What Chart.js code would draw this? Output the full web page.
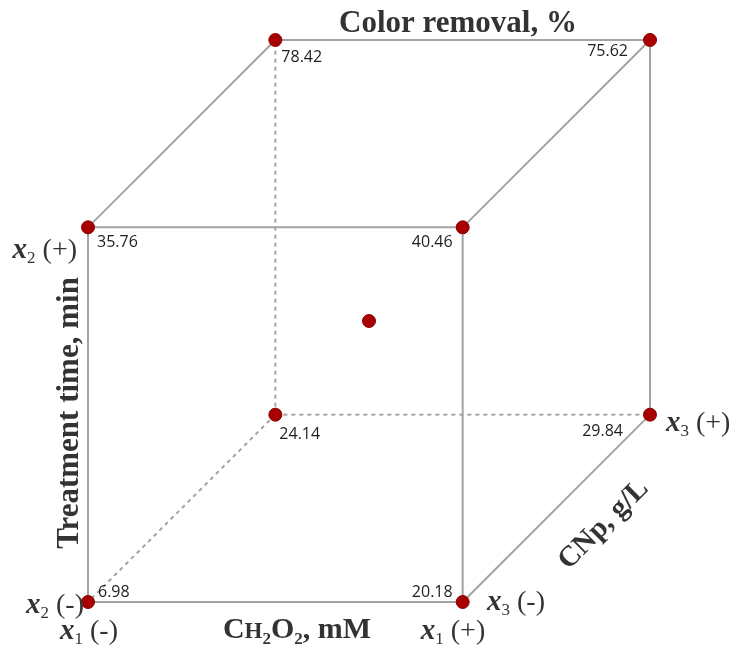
<!DOCTYPE html>
<html>
<head>
<meta charset="utf-8">
<script src="https://cdn.jsdelivr.net/npm/chart.js@4.4.0/dist/chart.umd.min.js"></script>
<style>
  html, body { margin: 0; padding: 0; background: #fff; }
  #wrap { width: 733px; height: 650px; }
</style>
</head>
<body>
<div id="wrap"><canvas id="cube"></canvas></div>
<script>
// factor levels of the 2^3 design (x1 = CH2O2, x2 = time, x3 = CNp)
var levelX1 = [-1, 1, -1, 1, -1, 1, -1, 1];
var levelX2 = [-1, -1, 1, 1, -1, -1, 1, 1];
var levelX3 = [-1, -1, -1, -1, 1, 1, 1, 1];
var removal = [6.98, 20.18, 35.76, 40.46, 24.14, 29.84, 78.42, 75.62];
// centre point
var centerLevel = [0, 0, 0];

// cube edges (vertex index pairs); the hidden corner edges are dashed
var edges = [[0,1],[0,2],[1,3],[2,3],[5,7],[6,7],[1,5],[2,6],[3,7]];
var hiddenEdges = [[4,0],[4,5],[4,6]];

var depth = 0.5; // oblique projection of x3
function proj(a, b, c) { return { x: a + depth * c, y: b + depth * c }; }

var corners = levelX1.map(function (v, i) { return proj(v, levelX2[i], levelX3[i]); });
var center = proj(centerLevel[0], centerLevel[1], centerLevel[2]);

var lineColor = '#a3a3a3';
var dotColor = '#a80000';
var serif = '"Liberation Serif", "Times New Roman", serif';
var sans = '"Open Sans", "Noto Sans", sans-serif';

var datasets = [{
  type: 'scatter',
  order: 0,
  data: corners.concat([center]),
  pointRadius: 6.5,
  pointHoverRadius: 6.5,
  backgroundColor: dotColor,
  borderColor: '#8a0000',
  borderWidth: 1,
  clip: false
}];
edges.forEach(function (e) {
  datasets.push({ type: 'line', order: 1, data: [corners[e[0]], corners[e[1]]],
    borderColor: lineColor, borderWidth: 2, pointRadius: 0, clip: false });
});
hiddenEdges.forEach(function (e) {
  datasets.push({ type: 'line', order: 1, data: [corners[e[0]], corners[e[1]]],
    borderColor: lineColor, borderWidth: 2, borderDash: [4, 4], pointRadius: 0, clip: false });
});

// where each value label sits relative to its dot
var labelPos = [
  { dx: 10, dy: -10, align: 'left' },
  { dx: -10, dy: -10, align: 'right' },
  { dx: 9, dy: 15, align: 'left' },
  { dx: -10, dy: 15, align: 'right' },
  { dx: 4, dy: 20, align: 'left' },
  { dx: -27, dy: 17, align: 'right' },
  { dx: 6, dy: 17, align: 'left' },
  { dx: -22, dy: 11, align: 'right' }
];

function drawRich(ctx, parts, x, y, align) {
  var total = 0;
  parts.forEach(function (p) { ctx.font = p.font; p.w = ctx.measureText(p.text).width; total += p.w; });
  var cx = align === 'center' ? x - total / 2 : (align === 'right' ? x - total : x);
  ctx.textAlign = 'left';
  ctx.textBaseline = 'alphabetic';
  parts.forEach(function (p) { ctx.font = p.font; ctx.fillText(p.text, cx, y + (p.dy || 0)); cx += p.w; });
}

function factor(n, sign) {
  return [
    { text: 'x', font: 'italic bold 29px ' + serif },
    { text: String(n), font: '17px ' + serif, dy: 5 },
    { text: ' (' + sign + ')', font: '28px ' + serif }
  ];
}

var annotate = {
  id: 'annotate',
  afterDatasetsDraw: function (chart) {
    var ctx = chart.ctx, xs = chart.scales.x, ys = chart.scales.y;
    ctx.save();
    ctx.fillStyle = '#1e1e1e';
    ctx.font = '16px ' + sans;
    ctx.textBaseline = 'middle';
    removal.forEach(function (v, i) {
      var p = corners[i], lp = labelPos[i];
      ctx.textAlign = lp.align;
      ctx.fillText(v.toFixed(2), xs.getPixelForValue(p.x) + lp.dx, ys.getPixelForValue(p.y) + lp.dy);
    });

    ctx.fillStyle = '#333';
    drawRich(ctx, [{ text: 'Color removal, %', font: 'bold 31px ' + serif }], 458, 32, 'center');
    var b29 = 'bold 30px ' + serif;
    drawRich(ctx, [
      { text: 'C', font: b29 },
      { text: 'H', font: 'bold 23px ' + serif },
      { text: '2', font: 'bold 17px ' + serif, dy: 6 },
      { text: 'O', font: b29 },
      { text: '2', font: 'bold 17px ' + serif, dy: 6 },
      { text: ', mM', font: b29 }
    ], 297, 638, 'center');

    ctx.save();
    ctx.translate(78, 413);
    ctx.rotate(-Math.PI / 2);
    drawRich(ctx, [{ text: 'Treatment time, min', font: 'bold 31px ' + serif }], 0, 0, 'center');
    ctx.restore();

    ctx.save();
    ctx.translate(609, 530);
    ctx.rotate(-Math.PI / 4);
    drawRich(ctx, [{ text: 'CNp, g/L', font: 'bold 29px ' + serif }], 0, 0, 'center');
    ctx.restore();

    drawRich(ctx, factor(2, '+'), 77, 258, 'right');
    drawRich(ctx, factor(2, '-'), 84, 613, 'right');
    drawRich(ctx, factor(1, '-'), 89, 639, 'center');
    drawRich(ctx, factor(1, '+'), 453, 639, 'center');
    drawRich(ctx, factor(3, '-'), 487, 610, 'left');
    drawRich(ctx, factor(3, '+'), 666, 431, 'left');
    ctx.restore();
  }
};

new Chart(document.getElementById('cube').getContext('2d'), {
  type: 'scatter',
  data: { datasets: datasets },
  options: {
    responsive: true,
    maintainAspectRatio: false,
    animation: false,
    layout: { padding: { left: 88, right: 83, top: 40, bottom: 48 } },
    plugins: { legend: { display: false }, tooltip: { enabled: false } },
    scales: {
      x: { type: 'linear', display: false, min: -1.5, max: 1.5 },
      y: { type: 'linear', display: false, min: -1.5, max: 1.5 }
    }
  },
  plugins: [annotate]
});
</script>
</body>
</html>
